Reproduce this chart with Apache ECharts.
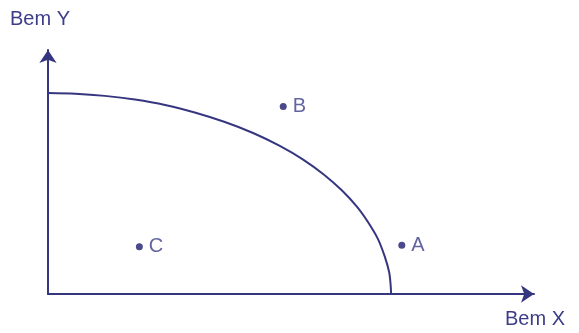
<!DOCTYPE html>
<html>
<head>
<meta charset="utf-8">
<script src="https://cdn.jsdelivr.net/npm/echarts@6/dist/echarts.min.js"></script>
<style>
html,body{margin:0;padding:0;background:#fff;}
#chart{width:579px;height:333px;}
</style>
</head>
<body>
<div id="chart"></div>
<script>
// Production possibilities frontier (Bem X vs Bem Y)
var frontierX = [0, 5.6, 11.7, 17.9, 24.1, 30.2, 36.4, 42.2, 47.7, 52.5, 56.8, 60.5, 63.6, 66.0, 67.9, 69.3, 70.2, 70.5, 70.6];
var frontierY = [82.4, 82.1, 81.2, 79.7, 77.5, 74.4, 70.5, 66.0, 60.7, 55.1, 48.9, 42.4, 35.7, 29.0, 22.5, 15.3, 8.9, 3.7, 0];
var pointNames = ['B', 'A', 'C'];
var pointX = [48.4, 72.8, 18.8];
var pointY = [76.8, 20.0, 19.4];
var xAxisName = 'Bem X';
var yAxisName = 'Bem Y';

var lineColor = '#363680';
var textColor = '#3c3c88';
var fontFam = '"Liberation Sans", Arial, sans-serif';

var frontierData = frontierX.map(function (x, i) { return [x, frontierY[i]]; });
var pointData = pointNames.map(function (n, i) { return { name: n, value: [pointX[i], pointY[i]] }; });

var chart = echarts.init(document.getElementById('chart'), null, { renderer: 'canvas' });
var axisCommon = {
  type: 'value', min: 0, max: 100,
  axisLabel: { show: false }, axisTick: { show: false }, splitLine: { show: false },
  axisLine: { show: true, onZero: false, symbol: ['none', 'arrow'], symbolSize: [13, 13],
    lineStyle: { color: lineColor, width: 2 } }
};
chart.setOption({
  animation: false,
  backgroundColor: '#ffffff',
  grid: { left: 48, right: 45, top: 50, bottom: 39 },
  xAxis: Object.assign({}, axisCommon),
  yAxis: Object.assign({}, axisCommon),
  graphic: [
    { type: 'text', left: 10, top: 9, style: { text: yAxisName, fill: textColor, font: '20px ' + fontFam } },
    { type: 'text', left: 505, top: 309, style: { text: xAxisName, fill: textColor, font: '20px ' + fontFam } }
  ],
  series: [
    { type: 'line', data: frontierData, smooth: 0.3, symbol: 'none',
      lineStyle: { color: lineColor, width: 2 } },
    { type: 'scatter', data: pointData, symbolSize: 7,
      itemStyle: { color: '#1c1c6e' },
      label: { show: true, position: 'right', distance: 6, formatter: '{b}',
        color: textColor, fontSize: 20, fontFamily: fontFam } }
  ]
});
</script>
</body>
</html>
